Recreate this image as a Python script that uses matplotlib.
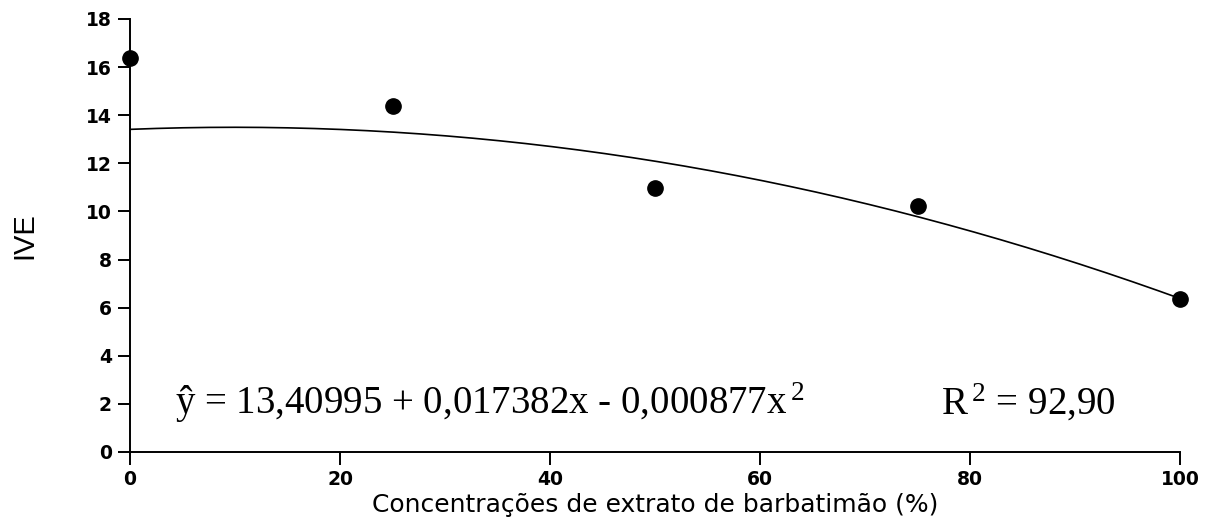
import matplotlib.pyplot as plt
import numpy as np

# Observed data
conc = [0, 25, 50, 75, 100]
ive = [16.38, 14.38, 10.97, 10.22, 6.36]

# Fitted quadratic coefficients (from the equation on the chart): c2, c1, c0
coef = [-0.000877, 0.017382, 13.40995]

x_ticks = [0, 20, 40, 60, 80, 100]
y_ticks = [0, 2, 4, 6, 8, 10, 12, 14, 16, 18]

fig = plt.figure(figsize=(12.07, 5.23), dpi=100)
ax = fig.add_axes([0.1077, 0.1358, 0.87, 0.828])

x_fit = np.linspace(0, 100, 200)
ax.plot(x_fit, np.polyval(coef, x_fit), color="black", linewidth=1.2, zorder=2)
ax.plot(conc, ive, "o", color="black", markersize=11, clip_on=False, zorder=3)

ax.set_xlim(0, 100)
ax.set_ylim(0, 18)
ax.set_xticks(x_ticks)
ax.set_yticks(y_ticks)
for s in ["top", "right"]:
    ax.spines[s].set_visible(False)
for s in ["left", "bottom"]:
    ax.spines[s].set_linewidth(1.4)
ax.tick_params(direction="out", length=9, width=1.4, labelsize=13.5, pad=4)
for lbl in ax.get_xticklabels() + ax.get_yticklabels():
    lbl.set_fontweight("bold")
    lbl.set_family("DejaVu Sans")

ax.set_xlabel("Concentrações de extrato de barbatimão (%)", fontsize=18,
              family="DejaVu Sans", labelpad=3)
ax.set_ylabel("IVE", fontsize=21, family="Liberation Sans", labelpad=34)

ax.text(4.3, 2.05, r"ŷ = 13,40995 + 0,017382x - 0,000877$\mathregular{x^{\,2}}$",
        fontsize=28, family="Liberation Serif", va="center", ha="left")
ax.text(77.2, 2.05, r"$\mathregular{R^{\,2}}$ = 92,90",
        fontsize=28, family="Liberation Serif", va="center", ha="left")

plt.savefig("out.png", dpi=100)
